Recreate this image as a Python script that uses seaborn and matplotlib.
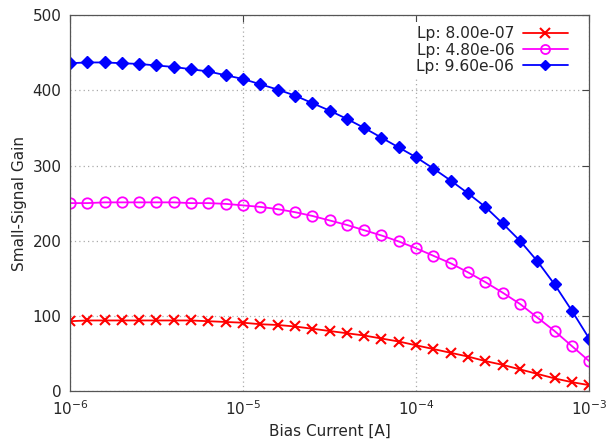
import numpy as np
import pandas as pd
import matplotlib
matplotlib.use("Agg")
import matplotlib.pyplot as plt
import seaborn as sns

# ---- data ----
bias_exponents = [-6.0 + i * 0.1 for i in range(31)]  # 10 points per decade
bias_current = [10 ** e for e in bias_exponents]

gain_lp_8e7 = [93, 94, 94, 94, 94, 94, 94, 94, 93, 92, 91, 89, 88, 86, 83, 80,
               77, 74, 70, 66, 61, 56, 51, 46, 40, 35, 29, 23, 17, 12, 8]
gain_lp_48e7 = [250, 250, 251, 251, 251, 251, 251, 250, 250, 249, 247, 245, 242,
                238, 233, 227, 221, 214, 207, 199, 190, 180, 170, 158, 145, 131,
                116, 98, 80, 60, 40]
gain_lp_96e7 = [436, 437, 437, 436, 435, 433, 431, 428, 425, 420, 415, 408, 401,
                393, 383, 373, 362, 350, 337, 324, 311, 296, 280, 263, 245, 223,
                200, 173, 142, 107, 70]

series_labels = ["Lp: 8.00e-07", "Lp: 4.80e-06", "Lp: 9.60e-06"]
series_values = [gain_lp_8e7, gain_lp_48e7, gain_lp_96e7]
x_ticks = [1e-6, 1e-5, 1e-4, 1e-3]
x_tick_labels = [r"$10^{-6}$", r"$10^{-5}$", r"$10^{-4}$", r"$10^{-3}$"]
y_ticks = [0, 100, 200, 300, 400, 500]

frames = []
for lab, vals in zip(series_labels, series_values):
    frames.append(pd.DataFrame({"Bias Current [A]": bias_current,
                                "Small-Signal Gain": vals,
                                "series": lab}))
df = pd.concat(frames, ignore_index=True)

sns.set_style("white")
plt.rcParams["font.family"] = ["DejaVu Sans"]

fig = plt.figure(figsize=(6.08, 4.43), dpi=100)
ax = fig.add_axes([0.115, 0.117, 0.854, 0.849])

styles = {
    "Lp: 8.00e-07": dict(color="#ff0000", marker="x", markersize=7.5, mew=1.5,
                         markerfacecolor="#ff0000"),
    "Lp: 4.80e-06": dict(color="#ff00ff", marker="o", markersize=7.5, mew=1.3,
                         markerfacecolor="none"),
    "Lp: 9.60e-06": dict(color="#0000ff", marker="D", markersize=6, mew=1.0,
                         markerfacecolor="#0000ff"),
}

for lab in series_labels:
    st = styles[lab]
    sns.lineplot(data=df[df["series"] == lab], x="Bias Current [A]",
                 y="Small-Signal Gain", ax=ax, label=lab, color=st["color"],
                 marker=st["marker"], markersize=st["markersize"],
                 markeredgewidth=st["mew"], markerfacecolor=st["markerfacecolor"],
                 markeredgecolor=st["color"], linewidth=1.3)

ax.set_xscale("log")
ax.set_xlim(1e-6, 1e-3)
ax.set_ylim(0, 500)
ax.set_xticks(x_ticks)
ax.set_xticklabels(x_tick_labels)
ax.set_yticks(y_ticks)
ax.xaxis.set_minor_locator(matplotlib.ticker.NullLocator())

ax.grid(True, which="major", color="#aaaaaa", linestyle=(0, (1, 2.5)), linewidth=0.9)
ax.tick_params(axis="both", which="major", direction="in", top=True, right=True,
               length=5, width=0.8, labelsize=11, color="#444444", pad=6)
for sp in ax.spines.values():
    sp.set_color("#555555")
    sp.set_linewidth(0.9)

ax.set_xlabel("Bias Current [A]", fontsize=11)
ax.set_ylabel("Small-Signal Gain", fontsize=11)

leg = ax.legend(loc="upper right", bbox_to_anchor=(1 - 8 / 519, 1 + 2 / 376),
                markerfirst=False, frameon=True, fontsize=11.2,
                labelspacing=0.08, handlelength=2.9, handletextpad=0.55,
                borderaxespad=0.55, borderpad=0.3, fancybox=False)
leg.get_frame().set_edgecolor("none")
leg.get_frame().set_facecolor("white")
leg.get_frame().set_alpha(1.0)
for h in leg.legend_handles:
    h.set_markersize(6.5 if h.get_marker() != "D" else 5.5)

fig.savefig("out.png", dpi=100)
